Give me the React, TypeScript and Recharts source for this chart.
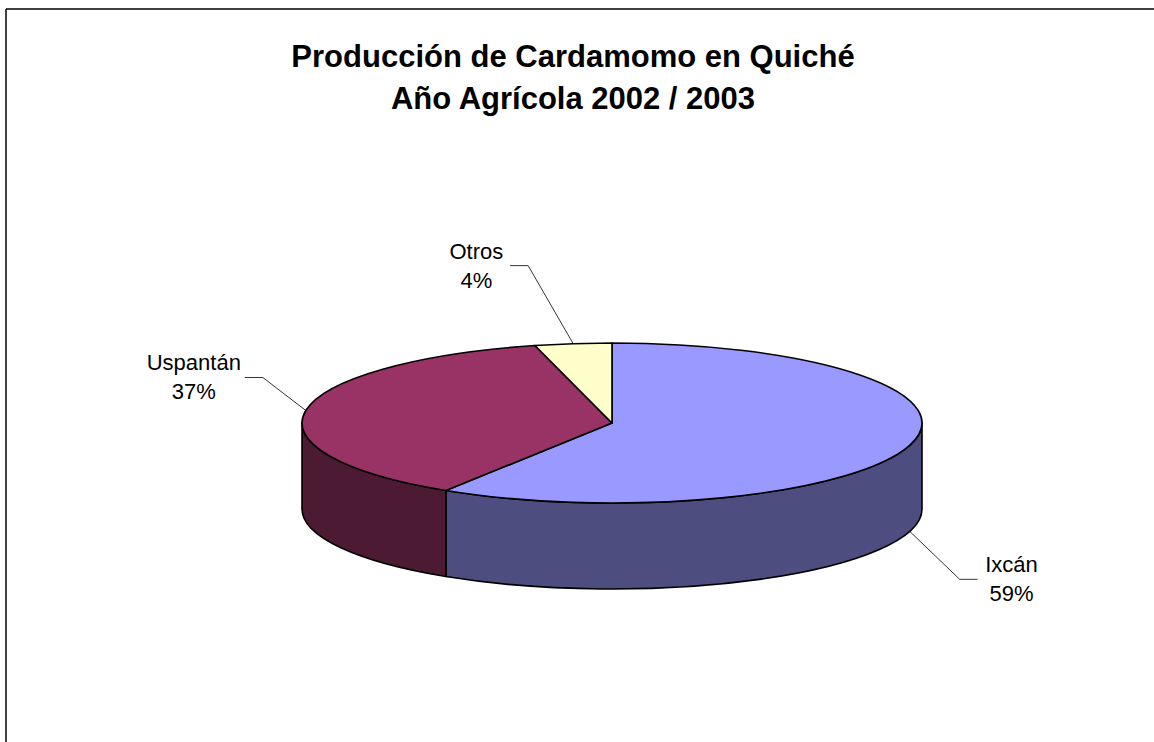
import React from 'react';
import { PieChart, Pie, Cell } from 'recharts';

const categories = ['Ixcán', 'Uspantán', 'Otros'];
const values = [59, 37, 4];
const titleLines = ['Producción de Cardamomo en Quiché', 'Año Agrícola 2002 / 2003'];

const TOP_COLORS = ['#9999FF', '#993366', '#FFFFCC'];
const SIDE_COLORS = ['#4D4D80', '#4D1A33', '#80805F'];
// leader-line elbow offsets relative to the slice anchor (layout only)
const LABEL_ELBOW = [
  [50, 48],
  [-43, -33],
  [-45, -78],
];

const data = categories.map((name, i) => ({ name, value: values[i] }));

const W = 1154;
const H = 742;
const CX = 612;
const CY = 423;
const RX = 310;
const RY = 80;
const DEPTH = 86;
const RAD = Math.PI / 180;
const FONT = '"Liberation Sans", Arial, sans-serif';

const ell = (cx: number, cy: number, a: number): [number, number] => [
  cx + RX * Math.cos(a * RAD),
  cy - RY * Math.sin(a * RAD),
];

const Slice3D = (props: any) => {
  const { cx, cy, startAngle, endAngle, fill, payload } = props;
  const name = payload?.name ?? props.name;
  const idx = Math.max(0, categories.indexOf(name));
  const hi = Math.max(startAngle, endAngle);
  const lo = Math.min(startAngle, endAngle);
  const p1 = ell(cx, cy, hi);
  const p2 = ell(cx, cy, lo);
  const large = hi - lo > 180 ? 1 : 0;
  const top = `M${cx},${cy} L${p1[0]},${p1[1]} A${RX},${RY} 0 ${large} 1 ${p2[0]},${p2[1]} Z`;

  const sides: string[] = [];
  for (let k = -3; k <= 3; k++) {
    const fLo = -180 + 360 * k;
    const fHi = 0 + 360 * k;
    const a1 = Math.max(lo, fLo);
    const a2 = Math.min(hi, fHi);
    if (a2 - a1 > 0.01) {
      const s = ell(cx, cy, a2);
      const e = ell(cx, cy, a1);
      const lg = a2 - a1 > 180 ? 1 : 0;
      sides.push(
        `M${s[0]},${s[1]} A${RX},${RY} 0 ${lg} 1 ${e[0]},${e[1]} L${e[0]},${e[1] + DEPTH} A${RX},${RY} 0 ${lg} 0 ${s[0]},${s[1] + DEPTH} Z`
      );
    }
  }
  return (
    <g>
      {sides.map((d, i) => (
        <path key={i} d={d} fill={SIDE_COLORS[idx]} stroke="#000" strokeWidth={1.6} strokeLinejoin="round" />
      ))}
      <path d={top} fill={fill} stroke="#000" strokeWidth={1.6} strokeLinejoin="round" />
    </g>
  );
};

const renderLabel = (props: any) => {
  const { cx, cy, midAngle, percent, name, index } = props;
  const a = ell(cx, cy, midAngle);
  const front = Math.sin(midAngle * RAD) < 0;
  const ax = a[0];
  const ay = a[1] + (front ? DEPTH : 0);
  const off = LABEL_ELBOW[index] ?? [0, 0];
  const ex = ax + off[0];
  const ey = ay + off[1];
  const right = off[0] > 0;
  const hx = ex + (right ? 18 : -18);
  const textW = Math.max(name.length * 11.5, 40);
  const tx = right ? hx + 5 + textW / 2 : hx - 5 - textW / 2;
  const pct = `${Math.round(percent * 100)}%`;
  return (
    <g>
      <polyline points={`${ax},${ay} ${ex},${ey} ${hx},${ey}`} fill="none" stroke="#000" strokeWidth={0.8} />
      <text x={tx} y={ey - 7} textAnchor="middle" fontFamily={FONT} fontSize={22} fill="#000">
        {name}
      </text>
      <text x={tx} y={ey + 22} textAnchor="middle" fontFamily={FONT} fontSize={22} fill="#000">
        {pct}
      </text>
    </g>
  );
};

export default function App() {
  return (
    <div style={{ position: 'absolute', left: 0, top: 0, width: W, height: H, background: '#fff' }}>
      <svg width={W} height={H} style={{ position: 'absolute', left: 0, top: 0 }}>
        <line x1={6} y1={9} x2={W} y2={9} stroke="#000" strokeWidth={1.5} />
        <line x1={6} y1={9} x2={6} y2={H} stroke="#000" strokeWidth={1.5} />
        <text x={573} y={67} textAnchor="middle" fontFamily={FONT} fontWeight="bold" fontSize={31} fill="#000">
          {titleLines[0]}
        </text>
        <text x={573} y={109} textAnchor="middle" fontFamily={FONT} fontWeight="bold" fontSize={31} fill="#000">
          {titleLines[1]}
        </text>
      </svg>
      <div style={{ position: 'absolute', left: 0, top: 0 }}>
        <PieChart width={W} height={H} margin={{ top: 0, right: 0, bottom: 0, left: 0 }}>
          <Pie
            data={data}
            dataKey="value"
            nameKey="name"
            cx={CX}
            cy={CY}
            outerRadius={RX}
            startAngle={90}
            endAngle={-270}
            isAnimationActive={false}
            shape={Slice3D}
            activeShape={Slice3D}
            inactiveShape={Slice3D}
            label={renderLabel}
            labelLine={false}
            stroke="#000"
          >
            {data.map((d, i) => (
              <Cell key={d.name} fill={TOP_COLORS[i]} />
            ))}
          </Pie>
        </PieChart>
      </div>
    </div>
  );
}
